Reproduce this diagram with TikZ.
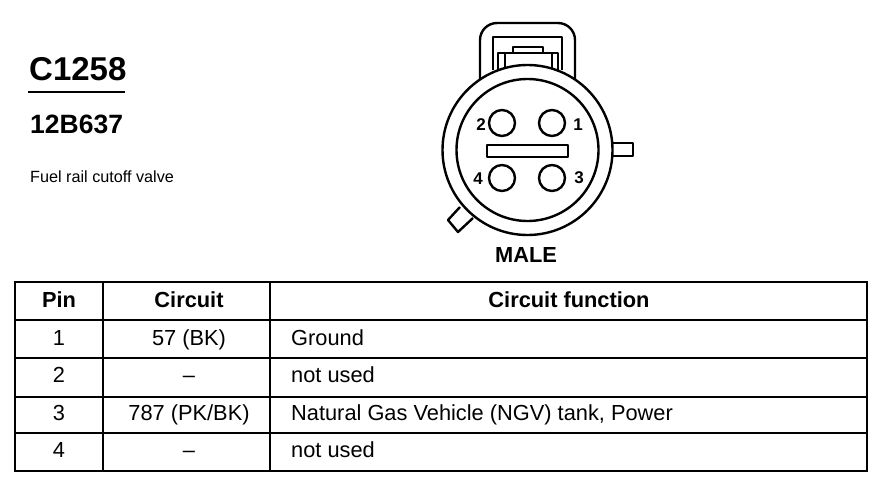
\documentclass[tikz,border=0pt]{standalone}
\usepackage{fontspec}
\setmainfont{Liberation Sans}
\tikzset{
  wire/.style={line width=2.4pt,line join=round},
  frameline/.style={line width=2.8pt,line cap=rect},
  headtext/.style={anchor=base,inner sep=0pt,font=\fontsize{21.8}{22}\selectfont\bfseries},
  celltext/.style={anchor=base,inner sep=0pt,font=\fontsize{21.8}{22}\selectfont},
  functext/.style={anchor=base west,inner sep=0pt,font=\fontsize{21.8}{22}\selectfont},
  pinnum/.style={font=\fontsize{17}{17}\selectfont\bfseries}
}
\begin{document}
\begin{tikzpicture}[x=1pt,y=-1pt]
  \useasboundingbox (0,0) rectangle (880,480);

  % title block
  \node[anchor=base west,inner sep=0pt,font=\fontsize{33}{33}\selectfont\bfseries] (title) at (29,80) {C1258};
  \draw[line width=1.8pt] (28,92) -- (125,92);
  \node[anchor=base west,inner sep=0pt,font=\fontsize{26.5}{27}\selectfont\bfseries] (partno) at (30,133) {12B637};
  \node[anchor=base west,inner sep=0pt,font=\fontsize{16.2}{17}\selectfont] (descr) at (30,182) {Fuel rail cutoff valve};

  % latch behind the shell
  \draw[wire,rounded corners=17pt] (480,80) -- (480,23) -- (575,23) -- (575,80);
  \draw[wire] (493,70) -- (493,37) -- (562,37) -- (562,70);
  \draw[wire] (498,70) -- (498,53) -- (558,53) -- (558,70);
  \draw[wire] (505,68) -- (505,53);
  \draw[wire] (552,68) -- (552,53);
  \draw[wire] (513,53) -- (513,47) -- (543,47) -- (543,53);

  % keys
  \draw[wire] (612,143) -- (633,143) -- (633,156) -- (612,156);
  \draw[wire,fill=white] (460,207) -- (448,220) -- (458,232) -- (473,218);

  % shell
  \draw[wire,fill=white] (527.5,150) circle (85);
  \draw[wire] (527.5,150) circle (71);

  % pins
  \foreach \px/\py in {502/123,552/123,502/178,552/178}
    \draw[wire] (\px,\py) circle (13);
  \draw[wire] (487,145) rectangle (568,157);
  \node[pinnum] (lab1) at (578,125) {1};
  \node[pinnum] (lab2) at (481,125) {2};
  \node[pinnum] (lab3) at (579,178) {3};
  \node[pinnum] (lab4) at (478,179) {4};
  \node[anchor=base,inner sep=0pt,font=\fontsize{21.8}{22}\selectfont\bfseries] (male) at (526,262) {MALE};

  % table
  \draw[frameline] (15,282) rectangle (867,471);
  \foreach \ry in {320,358,397,433}
    \draw[frameline] (15,\ry) -- (867,\ry);
  \foreach \cx in {103,270}
    \draw[frameline] (\cx,282) -- (\cx,471);

  \node[headtext] (hpin) at (59,307) {Pin};
  \node[headtext] (hcircuit) at (189,307) {Circuit};
  \node[headtext] (hfunc) at (569,307) {Circuit function};

  \node[celltext] (pin1) at (59,345) {1};
  \node[celltext] (cir1) at (189,345) {57 (BK)};
  \node[functext] (fun1) at (291,345) {Ground};
  \node[celltext] (pin2) at (59,382) {2};
  \node[celltext] (cir2) at (189,382) {--};
  \node[functext] (fun2) at (291,382) {not used};
  \node[celltext] (pin3) at (59,420) {3};
  \node[celltext] (cir3) at (189,420) {787 (PK/BK)};
  \node[functext] (fun3) at (291,420) {Natural Gas Vehicle (NGV) tank, Power};
  \node[celltext] (pin4) at (59,457) {4};
  \node[celltext] (cir4) at (189,457) {--};
  \node[functext] (fun4) at (291,457) {not used};
\end{tikzpicture}
\end{document}
